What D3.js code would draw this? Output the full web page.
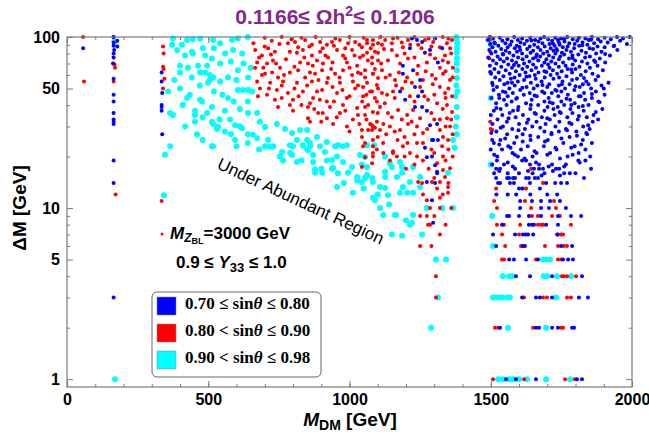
<!DOCTYPE html>
<html>
<head>
<meta charset="utf-8">
<script src="https://cdn.jsdelivr.net/npm/d3@7"></script>
<style>
  body { margin: 0; background: #fff; }
  svg { font-family: Arial, "Liberation Sans", sans-serif; }
</style>
</head>
<body>
<svg id="chart" width="649" height="445"></svg>
<script>
// ---- data ----
var xTicks = [0, 500, 1000, 1500, 2000];
var xMinor = d3.range(0, 2001, 100);
var yTicks = [1, 5, 10, 50, 100];
var yMinor = [2, 3, 4, 6, 7, 8, 9, 20, 30, 40, 60, 70, 80, 90];

var legendLabels = [
  ["0.70 \u2264 sin", "\u03b8", " \u2264 0.80"],
  ["0.80 < sin", "\u03b8", " \u2264 0.90"],
  ["0.90 < sin", "\u03b8", " \u2264 0.98"]
];
var legendColors = ["#0000ff", "#ff0000", "#00ffff"];

// cyan : 0.90 < sin theta <= 0.98
var cyanPts = [
  [168,94],[170,1],[343,11.9],[347,20.5],[365,23],[358,48],[365,36],[375,35],[372,90],[375,98],
  [407,90],[418,78],[442,82],[400,68],[428,66],[464,68],[496,68],[471,62],[489,62],[506,60],
  [400,62],[442,58],[506,56],[499,54],[425,44],[435,46],[478,42],[453,35],[496,36],[453,32],
  [513,32],[418,30],[517,23],[531,30],[425,96],[446,97],[471,98],[517,96],[542,92],[584,96],
  [605,98],[640,100],[446,80],[481,86],[489,78],[513,75],[542,70],[588,84],[620,80],[542,55],
  [570,58],[605,64],[641,58],[517,58],[605,49],[623,49],[641,49],[655,48],[471,43],[570,44],
  [513,39],[453,37],[559,37],[612,38],[641,36],[673,36],[517,31],[577,33],[612,30],[531,29],
  [513,23],[595,25],[712,25],[701,23],[683,32],[743,31],[772,29],[797,27.5],[800,23],[850,25],
  [860,23],[885,26],[896,23],[949,23],[977,23],[754,20],[765,19],[850,22],[871,18.6],[878,16.8],
  [920,19],[938,17],[956,20],[959,16],[1009,17.4],[1027,14.5],[1055,15],[1080,15],[1012,12.3],[1083,11.5],
  [535,29.8],[559,28],[595,30.5],[620,29.3],[658,26.8],[673,25.6],[701,29.8],[719,22.8],[761,21.3],[789,23.3],
  [797,20.4],[814,18.6],[814,25],[835,23.3],[853,21.8],[860,24],[825,28.6],[850,28.6],[871,20.4],[878,16.1],
  [913,21.3],[920,24.3],[903,16.1],[938,19.1],[942,17.2],[956,13.3],[959,23.3],[991,23.3],[977,18.6],[995,16.1],
  [1027,15.2],[1044,14.2],[1062,15.6],[1090,11.1],[1108,13.3],[1126,13.1],[1136,11.9],[1161,9.1],[1179,12.3],[1204,12.3],
  [1186,6.9],[1221,8.2],[1062,17.4],[1037,20.4],[1126,16.3],[1186,16.1],[1179,18.6],[1225,17.4],[1214,14.2],[1143,18.3],
  [1062,23.3],[1087,23.3],[1055,19.9],[1126,20],[1150,17.4],[1186,17.4],[1044,18],[1083,14.2],[1126,15.2],[1168,15.2],
  [1250,15.2],[1189,13.3],[1225,12.3],[1250,13.3],[1108,10],[1274,10],[1328,10],[1366,10],[1349,16.1],[1366,25],
  [1372,22.5],[1380,34],[1380,39],[1375,45],[1380,57.5],[1380,64],[1380,70],[1380,81],[1380,86],[1380,96],
  [1378,100],[1382,92],[1380,75],[1378,52],[1382,48],[1376,30],[1380,27],
  [1119,9.1],[1165,9.1],[1225,9.1],[1150,7],[1214,8],[1257,7],[1306,5],[1342,5],[1313,3],[1289,2],
  [390,84],[520,86],[560,80],[580,72],[625,70],[650,66],[600,56],[470,52],[520,48],[550,46],
  [590,42],[640,42],[380,56],[400,50],[410,40],[480,34],[540,33],[580,27],[640,27],[460,27],
  [480,25],[600,23],[640,24],[680,22],[730,23],[790,21],[830,19],[900,17],[980,14],[1050,13],
  [1100,12],[1140,10.5],[1200,8.5],
  [1497,98],[1500,90],[1500,44],[1500,18],[1505,9],
  [1508,6],[1685,5],[1696,5],[1710,5],
  [1543,4],[1565,4],[1575,4],[1688,4],[1699,4],[1735,4],[1784,4],
  [1508,3],[1522,3],[1529,3],[1540,3],[1558,3],[1568,3],[1731,3],
  [1561,2],[1696,2],
  [1526,1],[1543,1],[1565,1],[1579,1],[1600,1],[1628,1],[1696,1],[1781,1]
];

// red : 0.80 < sin theta <= 0.90
var redPts = [
  [57,100],[60,55],[165,100],[168,69],[170,66],[165,55],[172,12],
  [340,88],[342,80],[340,67],[342,65],[345,57],[340,50],[335,11],
  [782,92],[807,93.5],[818,87],[843,96],[867,90],[896,93.5],[920,90],[938,93.5],[966,96],[995,92],
  [1020,93.5],[1044,87],[1062,96],[1083,90],[1101,92],
  [666,84],[690,78],[712,86],[736,82],[673,71],[708,70],[729,73],[789,82],[814,81],[835,84],
  [867,78],[896,82],[924,76],[956,84],[977,78],[1009,84],[1037,76],[1062,81],[1090,82],[825,71],
  [853,70],[885,73],[906,70],[991,71],[1027,68],[1080,70],[1101,73],
  [666,66],[701,61],[726,62],[754,66],[747,58],[789,62],[818,64],[843,58],[878,61],[903,64],
  [924,57.5],[949,61],[977,64],[1009,60],[1030,62],[1055,58],[1083,61],[1101,57.5],[673,55],[719,54],
  [765,55],[814,54],[867,55],[920,54],[966,54],[1012,55],[1062,54],[1097,52.5],
  [683,50],[708,46],[743,49],[736,43],[782,47],[800,43],[835,48],[871,44],[903,49],[920,42],
  [956,47],[991,44],[1020,50],[1048,45],[1080,48],[1097,42],[747,39],[789,40],[853,39],[931,39],
  [977,40],[1027,38.5],[1066,40],
  [889,36],[853,33.5],[920,33.5],[966,36],[1012,33],[1055,35],[1080,30.5],[1090,29.5],[1066,28.6],[1097,32],
  [991,30],[942,31],[860,32],
  [1044,26],[1083,25],[1048,23],[1097,22],[1083,20],[1044,17.4],[1080,18.3],
  [1062,92],[1083,96],[1115,90],[1126,96],[1150,92],[1154,98],[1189,87],[1207,96],[1243,90],[1267,96],
  [1296,93.5],[1320,87],[1345,92],[1363,96],[1356,86],
  [1048,78],[1080,76],[1101,81],[1136,73],[1168,78],[1179,70],[1207,75],[1243,68],[1274,71],[1303,75],
  [1338,78],[1349,71],[1366,66],[1320,66],
  [1055,64],[1083,61],[1115,64],[1143,60],[1161,56],[1204,58],[1221,54],[1260,56],[1292,60],[1331,61],
  [1356,56],[1320,51],[1338,47],[1363,45],
  [1048,51],[1073,48],[1101,50],[1133,46],[1154,48],[1186,50],[1214,45],[1278,43],[1310,41],[1345,40],[1363,36.5],
  [1055,39],[1083,36.5],[1108,39],[1136,36],[1172,37.5],[1204,35],[1225,37.5],[1250,33.5],[1320,33],[1345,33.5],[1356,30],
  [1073,31],[1083,30],[1080,28.6],[1044,28.6],[1108,28.6],[1143,30],[1179,28.6],[1207,31],[1239,30],[1260,27.5],
  [1320,28.6],[1331,26],[1349,25],
  [1055,24],[1083,23],[1119,24],[1154,21],[1189,23],[1214,21],[1239,24],[1328,23],[1331,20],[1310,18.3],
  [1083,21],[1055,19.8],[1154,21.5],[1168,20],[1143,19],[1239,20],[1243,14.2],[1257,14],[1310,13],[1320,11.5],
  [1274,11.1],[1285,10],[1320,10],[1250,9],[1274,9],[1285,8],[1278,8],[1250,6],[1306,4],[1306,3],
  [1349,12.3],[1356,17.1],[1338,15.2],[1349,13.3],[1320,14.2],[1331,16.7],[1292,14.2],
  [700,99],[760,100],[830,99],[880,100],[950,98],[1000,100],[1050,99],[1110,100],[1170,99],[1230,100],
  [1280,98],[1330,100],[676,45],[690,60],[660,92],[700,88],
  [725,95],[752,91],[795,97],[858,88],[905,86],[945,89],[985,86],[1035,90],[1075,86],[1122,85],
  [1185,93],[1215,90],[1255,86],[1290,88],[1350,98],
  [680,76],[722,79],[775,74],[840,76],[870,68],[915,78],[940,71],[985,75],[1018,78],[1065,73],
  [1112,70],[1150,84],[1195,80],[1230,76],[1285,79],[1330,73],[1360,80],
  [695,66],[740,70],[768,60],[805,67],[860,62],[890,56],[935,65],[965,58],[1000,66],[1040,61],
  [1090,65],[1128,58],[1175,62],[1240,61],[1270,63],[1305,57],[1340,63],
  [715,50],[760,52],[805,50],[850,52],[885,48],[940,51],[975,49],[1030,52],[1060,46],[1115,47],
  [1165,52],[1198,55],[1250,51],[1295,53],[1350,50],[1365,58],
  [760,44],[820,45],[860,41],[895,43],[945,42],[1000,45],[1045,42],[1090,44],[1125,41],[1160,44],
  [1230,42],[1265,45],[1300,46],[1340,44],
  [800,37],[830,40],[875,38],[905,36],[955,34],[985,37],[1030,35],[1060,33],[1100,36],[1150,34],
  [1185,33],[1220,32],[1290,36],[1330,38],[1360,33],
  [900,32],[1000,28],[1035,31],[1120,31],[1160,28],[1195,26],[1230,27],[1275,29],[1300,33],[1340,30],[1365,27],
  [1100,26],[1130,27],[1170,25],[1205,24],[1260,24],[1290,22],[1350,22],[1120,21],[1195,20],[1260,19],
  [1300,21],[1340,19],[1365,20],
  [1200,17],[1230,18],[1280,17],[1300,15],[1350,14],[1260,12],[1330,12],[1300,9],[1340,8],[1290,6],
  [1320,7],[1360,10],
  [1495,96],[1498,82],[1495,75],[1500,62],[1498,32],[1500,29],[1505,28.6],
  [1643,17],[1519,13],[1614,13],[1625,13],[1685,14],
  [1512,11],[1621,11],[1724,11],[1522,10],[1643,10],[1731,10],
  [1646,9],[1667,9],[1717,9],[1745,9],
  [1522,8],[1547,8],[1604,8],[1667,8],[1678,8],[1685,8],[1784,8],
  [1540,7],[1600,7],[1738,7],[1749,7],[1756,7],
  [1551,6],[1607,6],[1692,6],[1738,6],[1759,6],[1770,6],
  [1540,5],[1547,5],[1660,5],[1738,5],[1749,5],
  [1752,4],[1759,4],[1770,4],[1802,4],
  [1618,3],[1685,3],[1699,3],[1770,3],[1784,3],
  [1515,2],[1526,2],[1650,2],[1749,2],[1756,2],
  [1508,1],[1618,1],[1763,1],[1798,1]
];

// blue : 0.70 <= sin theta <= 0.80, scattered points
var bluePts = [
  [57,86],[165,100],[165,93],[165,89],[167,84],[165,80],[165,76],[163,70],[165,57],[165,46],
  [165,42],[165,36],[165,33],[165,32],[165,31],[165,19],[165,14],[178,95],[178,88],[165,3],
  [335,62],[335,55],[337,47],[335,40],[335,39],[335,37],[337,27],
  [1221,98],[1257,93.5],[1285,84],[1189,68],[1225,64],[1250,56],[1179,48],[1197,43],[1232,51],[1243,45],
  [1257,39],[1285,30.5],[1296,25],[1313,25],[1274,19.8],[1303,17.8],[1310,16],[1267,22.5],[1292,20],[1214,86],
  [1267,81],[1313,71],[1328,86],[1239,96],[1303,98],[1189,61],[1257,48],[1232,39],[1274,37],[1310,31],
  [1292,25],[1274,14.2],[1303,14],[1310,16.3],[1292,11.1],[1296,8.2],
  // in-between points of the right-hand cluster
  [1515,91.5],[1602,87.5],[1644,95.5],[1735,83.5],[1760,97.5],[1824,89.5],[1870,71.5],[1905,79.5],[1660,76.5],[1582,68.5],
  [1697,62.5],[1626,58.5],[1785,64.5],[1830,57.5],[1542,79.5],[1498,62.5],[1720,91.5],[1790,75.5],[1855,96.5],[1935,88.5],
  [1507,52.5],[1552,47.5],[1590,43.5],[1612,50.5],[1655,45.5],[1683,52.5],[1709,41.5],[1733,48.5],[1768,43.5],[1800,51.5],
  [1826,39.5],[1858,46.5],[1885,41.5],[1520,38.5],[1563,33.5],[1596,37.5],[1628,31.5],[1660,35.5],[1700,33.5],[1744,36.5],
  [1778,31.5],[1812,34.5],[1845,30.5],[1872,36.5],[1500,35],[1530,44],[1575,54],[1642,40],[1690,47],[1722,38],
  [1752,53],[1785,40],[1818,45],[1846,53],[1900,50],[1880,33],
  [1502,27.5],[1535,29.5],[1551,25.5],[1570,22.5],[1598,28.5],[1613,24.5],[1640,26.5],[1655,21.5],[1675,29.5],[1692,24.5],
  [1715,27.5],[1729,22.5],[1750,25.5],[1770,28.5],[1785,22.5],[1805,26.5],[1820,23.5],[1838,27.5],[1512,20.5],[1530,23.5],
  [1560,18.5],[1585,20.5],[1620,19.5],[1632,16.5],[1660,18.5],[1700,20.5],[1720,16.5],[1745,19.5],[1760,17.5],[1790,20.5],
  [1815,18.5],[1530,16.5],[1578,17.5],[1680,15.5],[1705,17.5],[1745,15.5],[1500,22],[1505,25],[1780,16]
];

// blue cluster above 1480 GeV, one row per integer Delta M
var blueRows = [
  [100,[1497,1583,1689,1771,1858,1947,1992]],
  [99,[1532,1640,1728,1812,1903]],
  [98,[1508,1611,1676,1749,1835,1968]],
  [97,[1559,1703,1790,1880,1925]],
  [96,[1489,1596,1657,1738,1847]],
  [95,[1541,1628,1717,1806,1958]],
  [94,[1574,1669,1761,1889]],
  [93,[1513,1605,1741,1825,1914]],
  [92,[1552,1683,1778,1866]],
  [91,[1498,1619,1708,1797,1982]],
  [90,[1569,1654,1744,1842]],
  [89,[1527,1592,1726,1813,1937]],
  [88,[1638,1691,1772,1878]],
  [87,[1506,1560,1667,1755,1903]],
  [86,[1585,1712,1795,1850]],
  [85,[1537,1629,1733,1862]],
  [84,[1495,1604,1676,1768,1948]],
  [83,[1553,1650,1722,1821]],
  [82,[1517,1593,1700,1784,1892]],
  [81,[1566,1641,1752,1837]],
  [80,[1502,1611,1686,1729,1873]],
  [79,[1544,1663,1760,1810]],
  [78,[1580,1706,1789,1922]],
  [77,[1524,1627,1675,1746,1851]],
  [76,[1491,1597,1721,1834]],
  [75,[1558,1650,1777,1886]],
  [74,[1533,1613,1697,1741]],
  [73,[1508,1575,1668,1799,1866]],
  [72,[1546,1637,1714,1823]],
  [71,[1590,1690,1756,1905]],
  [70,[1520,1618,1729,1842]],
  [69,[1562,1650,1703,1790]],
  [68,[1497,1599,1681,1765,1878]],
  [67,[1537,1629,1741,1814]],
  [66,[1575,1660,1708,1851]],
  [65,[1513,1612,1772,1800]],
  [64,[1553,1644,1720,1897]],
  [63,[1589,1690,1751,1836]],
  [62,[1528,1623,1669,1788]],
  [61,[1501,1567,1735,1860]],
  [60,[1602,1656,1712,1819]],
  [59,[1545,1637,1768,1880]],
  [58,[1516,1584,1691,1742]],
  [57,[1571,1659,1722,1805]],
  [56,[1532,1618,1788,1871]],
  [55,[1596,1680,1754,1838]],
  [54,[1505,1560,1642,1917]],
  [53,[1548,1707,1779,1826]],
  [52,[1585,1665,1741,1892]],
  [51,[1522,1627,1700,1815]],
  [50,[1566,1652,1763,1855]],
  [49,[1510,1604,1728,1796]],
  [48,[1543,1682,1750,1872]],
  [47,[1578,1638,1716,1830]],
  [46,[1529,1617,1773,1903]],
  [45,[1560,1663,1739,1812]],
  [44,[1502,1593,1705,1858]],
  [43,[1547,1645,1781,1834]],
  [42,[1574,1690,1750,1881]],
  [41,[1519,1625,1719,1797]],
  [40,[1556,1668,1760,1846]],
  [39,[1598,1701,1737,1811]],
  [38,[1535,1640,1782,1895]],
  [37,[1511,1579,1690,1829]],
  [36,[1567,1655,1748,1789]],
  [35,[1541,1614,1726,1864]],
  [34,[1588,1681,1771,1840]],
  [33,[1524,1633,1709,1808]],
  [32,[1557,1662,1743,1861]],
  [31,[1506,1600,1694,1786]],
  [30,[1543,1647,1729,1827]],
  [29,[1576,1621,1766,1850]],
  [28,[1520,1690,1741,1803]],
  [27,[1558,1613,1715,1841]],
  [26,[1592,1668,1779]],
  [25,[1534,1641,1702,1826]],
  [24,[1511,1583,1757,1858]],
  [23,[1562,1631,1688,1797]],
  [22,[1540,1607,1733,1835]],
  [21,[1577,1662,1710,1811]],
  [20,[1523,1596,1648,1772,1852]],
  [19,[1522,1611,1625,1810,1835]],
  [18,[1505,1547,1639,1671,1717,1766]],
  [17,[1519,1533,1586,1653,1671,1685,1731,1742,1855]],
  [16,[1512,1560,1600,1648,1690,1760,1800]],
  [15,[1519,1558,1565,1579,1586,1625,1635,1656,1667,1830]],
  [14,[1526,1533,1568,1582,1639,1696,1728,1749,1770]],
  [13,[1600,1611,1674]],
  [12,[1520,1560,1590,1640,1700,1735]],
  [11,[1604,1646,1678,1710,1745]],
  [10,[1604,1678,1706,1766]],
  [9,[1558,1565,1600,1635,1678,1738,1784,1820]],
  [8,[1540,1635,1646,1653,1696,1738]],
  [7,[1508,1586,1614,1624,1632,1650,1735]],
  [6,[1519,1614,1621,1749,1788]],
  [5,[1565,1582,1625,1667,1756,1774,1791]],
  [4,[1589,1639,1717,1823]],
  [3,[1611,1660,1674,1717,1812,1844]],
  [2,[1533,1660,1671,1717,1738,1788,1795]],
  [1,[1554,1589,1660,1805,1823]]
];

blueRows.forEach(function (r) {
  r[1].forEach(function (v) { bluePts.push([v, r[0]]); });
});

// ---- layout ----
var svg = d3.select("#chart");
var plotL = 67, plotR = 632, plotT = 37, plotB = 387;

var x = d3.scaleLinear().domain([0, 2000]).range([plotL, plotR]);
var y = d3.scaleLog().domain([0.9, 100]).range([plotB, plotT]);

var axisColor = "#7a7a7a";

// points
function dots(data, color, r) {
  svg.append("g")
    .selectAll("circle")
    .data(data)
    .enter()
    .append("circle")
      .attr("cx", function (d) { return x(d[0]); })
      .attr("cy", function (d) { return y(d[1]); })
      .attr("r", r)
      .style("fill", color);
}
dots(cyanPts, "#00ffff", 3);
dots(redPts, "#ff0000", 2);
dots(bluePts, "#0000ff", 2);

// axes, ticks pointing in
function styleAxis(g) {
  g.select(".domain").remove();
  g.selectAll("line").attr("stroke", axisColor);
  g.selectAll("text")
    .attr("fill", "#000")
    .style("font-family", "Arial, 'Liberation Sans', sans-serif")
    .style("font-weight", "bold")
    .style("font-size", "16px");
}

svg.append("g")
  .attr("transform", "translate(0," + plotB + ")")
  .call(d3.axisBottom(x).tickValues(xMinor).tickSize(-3).tickFormat(""))
  .call(styleAxis);
svg.append("g")
  .attr("transform", "translate(0," + plotB + ")")
  .call(d3.axisBottom(x).tickValues(xTicks).tickSize(-6).tickPadding(7).tickFormat(d3.format("d")))
  .call(styleAxis);
svg.append("g")
  .attr("transform", "translate(0," + plotT + ")")
  .call(d3.axisTop(x).tickValues(xMinor).tickSize(-3).tickFormat(""))
  .call(styleAxis);
svg.append("g")
  .attr("transform", "translate(0," + plotT + ")")
  .call(d3.axisTop(x).tickValues(xTicks).tickSize(-6).tickFormat(""))
  .call(styleAxis);

svg.append("g")
  .attr("transform", "translate(" + plotL + ",0)")
  .call(d3.axisLeft(y).tickValues(yMinor).tickSize(-3).tickFormat(""))
  .call(styleAxis);
svg.append("g")
  .attr("transform", "translate(" + plotL + ",0)")
  .call(d3.axisLeft(y).tickValues(yTicks).tickSize(-6).tickPadding(7).tickFormat(d3.format("d")))
  .call(styleAxis);
svg.append("g")
  .attr("transform", "translate(" + plotR + ",0)")
  .call(d3.axisRight(y).tickValues(yMinor).tickSize(-3).tickFormat(""))
  .call(styleAxis);
svg.append("g")
  .attr("transform", "translate(" + plotR + ",0)")
  .call(d3.axisRight(y).tickValues(yTicks).tickSize(-6).tickFormat(""))
  .call(styleAxis);

// frame
svg.append("rect")
  .attr("x", plotL).attr("y", plotT)
  .attr("width", plotR - plotL).attr("height", plotB - plotT)
  .attr("fill", "none")
  .attr("stroke", axisColor)
  .attr("stroke-width", 1.2);

// title
var title = svg.append("text")
  .attr("x", 335).attr("y", 24)
  .attr("text-anchor", "middle")
  .style("font-size", "21px")
  .style("font-weight", "bold")
  .attr("fill", "#84288a");
title.append("tspan").text("0.1166\u2264 \u03a9h");
title.append("tspan").attr("dy", -8).style("font-size", "14px").text("2");
title.append("tspan").attr("dy", 8).text("\u2264 0.1206");

// axis labels
var xl = svg.append("text")
  .attr("x", 350).attr("y", 426)
  .attr("text-anchor", "middle")
  .style("font-size", "19px")
  .style("font-weight", "bold");
xl.append("tspan").style("font-style", "italic").text("M");
xl.append("tspan").attr("dy", 4).style("font-size", "14px").text("DM");
xl.append("tspan").attr("dy", -4).text(" [GeV]");

svg.append("text")
  .attr("transform", "translate(26,208) rotate(-90)")
  .attr("text-anchor", "middle")
  .style("font-size", "19px")
  .style("font-weight", "bold")
  .text("\u0394M [GeV]");

// region note
svg.append("text")
  .attr("transform", "translate(216,168) rotate(25)")
  .style("font-size", "17px")
  .text("Under Abundant Region");

// parameter notes
svg.append("circle")
  .attr("cx", 162).attr("cy", 234).attr("r", 1.5)
  .style("fill", "#ff0000");
var n1 = svg.append("text")
  .attr("x", 170).attr("y", 239)
  .style("font-size", "17px")
  .style("font-weight", "bold");
n1.append("tspan").style("font-style", "italic").text("M");
n1.append("tspan").attr("dy", 3).style("font-size", "12px").style("font-style", "italic").text("Z");
n1.append("tspan").attr("dy", 2).style("font-size", "9px").text("BL");
n1.append("tspan").attr("dy", -5).text("=3000 GeV");

var n2 = svg.append("text")
  .attr("x", 176).attr("y", 268)
  .style("font-size", "17px")
  .style("font-weight", "bold");
n2.append("tspan").text("0.9 \u2264 ");
n2.append("tspan").style("font-style", "italic").text("Y");
n2.append("tspan").attr("dy", 4).style("font-size", "13px").text("33");
n2.append("tspan").attr("dy", -4).text(" \u2264 1.0");

// legend
var lg = svg.append("g");
lg.append("rect")
  .attr("x", 152).attr("y", 292)
  .attr("width", 169).attr("height", 85)
  .attr("rx", 5)
  .attr("fill", "#fff")
  .attr("stroke", "#666")
  .attr("stroke-width", 1);

legendLabels.forEach(function (lab, i) {
  var yy = 297 + i * 27;
  lg.append("rect")
    .attr("x", 157).attr("y", yy)
    .attr("width", 19).attr("height", 18)
    .attr("fill", legendColors[i])
    .attr("stroke", "#888")
    .attr("stroke-width", 0.5);
  var t = lg.append("text")
    .attr("x", 185).attr("y", yy + 12)
    .style("font-family", "'Liberation Serif', 'Times New Roman', serif")
    .style("font-size", "17px")
    .style("font-weight", "bold");
  t.append("tspan").text(lab[0]);
  t.append("tspan").style("font-style", "italic").text(lab[1]);
  t.append("tspan").text(lab[2]);
});
</script>
</body>
</html>
